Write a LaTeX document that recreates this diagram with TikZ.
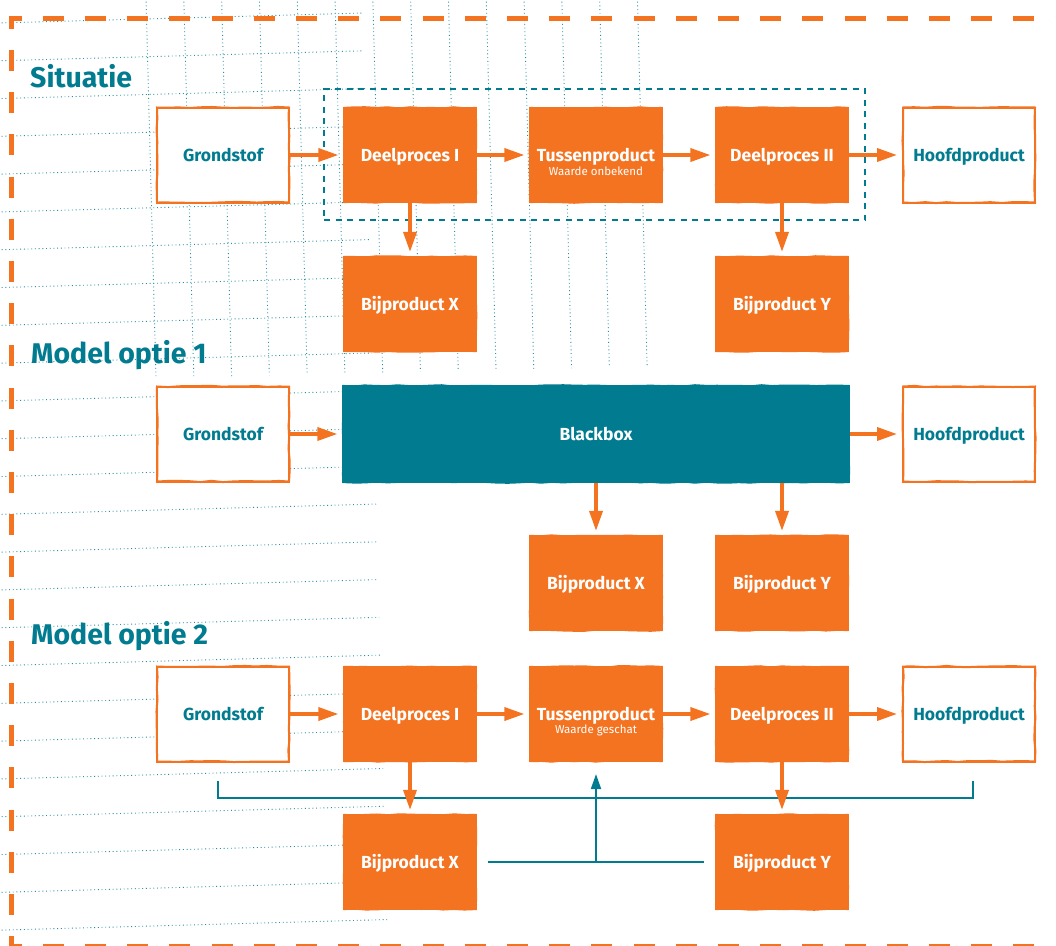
\documentclass[tikz,border=0pt]{standalone}
\usepackage{fontspec}
\setmainfont{Fira Sans}
\usetikzlibrary{arrows.meta,decorations.pathmorphing}

\definecolor{brandorange}{RGB}{243,115,33}
\definecolor{brandteal}{RGB}{0,123,143}

\tikzset{
  % hand-drawn looking outline added on top of a box
  sketch/.style={postaction={draw, decorate,
      decoration={random steps, segment length=11pt, amplitude=0.7pt}}},
  box/.style={rectangle, inner sep=0pt, minimum width=132pt, minimum height=95pt,
      text height=12pt, text depth=0pt,
      font=\fontsize{17.5}{20}\selectfont\bfseries, sketch},
  obox/.style={box, fill=brandorange, draw=brandorange, line width=1.2pt, text=white},
  wbox/.style={box, fill=white, draw=brandorange, line width=2pt, text=brandteal},
  tbox/.style={box, fill=brandteal, draw=brandteal, line width=1.2pt, text=white},
  subline/.style={anchor=base, inner sep=0pt, text=white,
      font=\fontsize{11.5}{13}\selectfont},
  heading/.style={anchor=base west, inner sep=0pt, text=brandteal,
      font=\fontsize{28.5}{32}\selectfont\bfseries},
  oarrow/.style={draw=brandorange, line width=3.5pt,
      -{Triangle[length=20pt,width=13pt]}, shorten >=5pt},
  tline/.style={draw=brandteal, line width=2pt},
  dotgrid/.style={draw=brandteal!85, line width=0.9pt, dash pattern=on 0.9pt off 2.8pt},
  framedash/.style={draw=brandorange, line width=5pt, dash pattern=on 21pt off 21.2pt},
  groupbox/.style={draw=brandteal, line width=2pt, dash pattern=on 6pt off 5.5pt,
      rectangle, inner sep=0pt},
}

\begin{document}
\begin{tikzpicture}[x=1pt,y=-1pt]
\pgfmathsetseed{11}
\useasboundingbox (0,0) rectangle (1056,945);
\clip (0,0) rectangle (1056,945);

% dotted background grid, slightly tilted
\foreach \k in {0,...,24} {
  \pgfmathsetmacro\ya{23+37.8*\k}
  \pgfmathsetmacro\xe{363+\k}
  \pgfmathsetmacro\ye{\ya-0.0275*\xe}
  \draw[dotgrid] (-2,\ya) -- (\xe,\ye);
}
\foreach \k in {0,...,13} {
  \pgfmathsetmacro\xa{146+37.8*\k}
  \pgfmathsetmacro\ye{378-0.9*\k}
  \pgfmathsetmacro\xe{\xa+0.0265*\ye}
  \draw[dotgrid] (\xa,-2) -- (\xe,\ye);
}

% orange dashed frame
\draw[framedash, dash phase=8pt] (8.5,18) -- (1060,18);
\draw[framedash, dash phase=7.8pt] (11,15.5) -- (11,950);
\draw[framedash, dash phase=8pt] (8.5,946) -- (1060,946);

% headings
\node[heading] (h1) at (30,87) {Situatie};
\node[heading] (h2) at (31,363) {Model optie 1};
\node[heading] (h3) at (31,644) {Model optie 2};

% ---------- Situatie ----------
\node[groupbox, minimum width=541pt, minimum height=131pt] (grp) at (594.5,154.5) {};
\node[wbox] (gs1) at (223,155) {Grondstof};
\node[obox] (dp1) at (410,155) {Deelproces I};
\node[obox] (tp1) at (596,155) {Tussenproduct};
\node[subline] (tp1s) at ([yshift=-20pt]tp1.center) {Waarde onbekend};
\node[obox] (dq1) at (782,155) {Deelproces II};
\node[wbox] (hp1) at (969,155) {Hoofdproduct};
\node[obox] (bx1) at (410,304) {Bijproduct X};
\node[obox] (by1) at (782,304) {Bijproduct Y};

\draw[oarrow] (gs1.east) -- (dp1.west);
\draw[oarrow] (dp1.east) -- (tp1.west);
\draw[oarrow] (tp1.east) -- (dq1.west);
\draw[oarrow] (dq1.east) -- (hp1.west);
\draw[oarrow, shorten >=4pt] (dp1.south) -- (bx1.north);
\draw[oarrow, shorten >=4pt] (dq1.south) -- (by1.north);

% ---------- Model optie 1 ----------
\node[wbox] (gs2) at (223,434) {Grondstof};
\node[tbox, minimum width=506pt, minimum height=97pt] (bb) at (596,434) {Blackbox};
\node[wbox] (hp2) at (969,434) {Hoofdproduct};
\node[obox] (bx2) at (596,583) {Bijproduct X};
\node[obox] (by2) at (782,583) {Bijproduct Y};

\draw[oarrow] (gs2.east) -- (bb.west);
\draw[oarrow] (bb.east) -- (hp2.west);
\draw[oarrow, shorten >=4pt] (bb.south -| bx2.north) -- (bx2.north);
\draw[oarrow, shorten >=4pt] (bb.south -| by2.north) -- (by2.north);

% ---------- Model optie 2 ----------
\node[wbox] (gs3) at (223,714) {Grondstof};
\node[obox] (dp3) at (410,714) {Deelproces I};
\node[obox] (tp3) at (596,714) {Tussenproduct};
\node[subline] (tp3s) at ([yshift=-19pt]tp3.center) {Waarde geschat};
\node[obox] (dq3) at (782,714) {Deelproces II};
\node[wbox] (hp3) at (969,714) {Hoofdproduct};
\node[obox] (bx3) at (410,862) {Bijproduct X};
\node[obox] (by3) at (782,862) {Bijproduct Y};

% allocation bracket and return line
\coordinate (brL) at (218,781);
\coordinate (brR) at (973,781);
\draw[tline] (brL) -- ++(0,17) -| (brR);
\draw[tline] ([xshift=11pt]bx3.east) -- ([xshift=-11pt]by3.west);
\draw[tline, -{Triangle[length=15pt,width=10pt]}, shorten >=12pt]
  (bx3.east -| tp3.south) -- (tp3.south);

\draw[oarrow] (gs3.east) -- (dp3.west);
\draw[oarrow] (dp3.east) -- (tp3.west);
\draw[oarrow] (tp3.east) -- (dq3.west);
\draw[oarrow] (dq3.east) -- (hp3.west);
\draw[oarrow, shorten >=4pt] (dp3.south) -- (bx3.north);
\draw[oarrow, shorten >=4pt] (dq3.south) -- (by3.north);
\end{tikzpicture}
\end{document}
